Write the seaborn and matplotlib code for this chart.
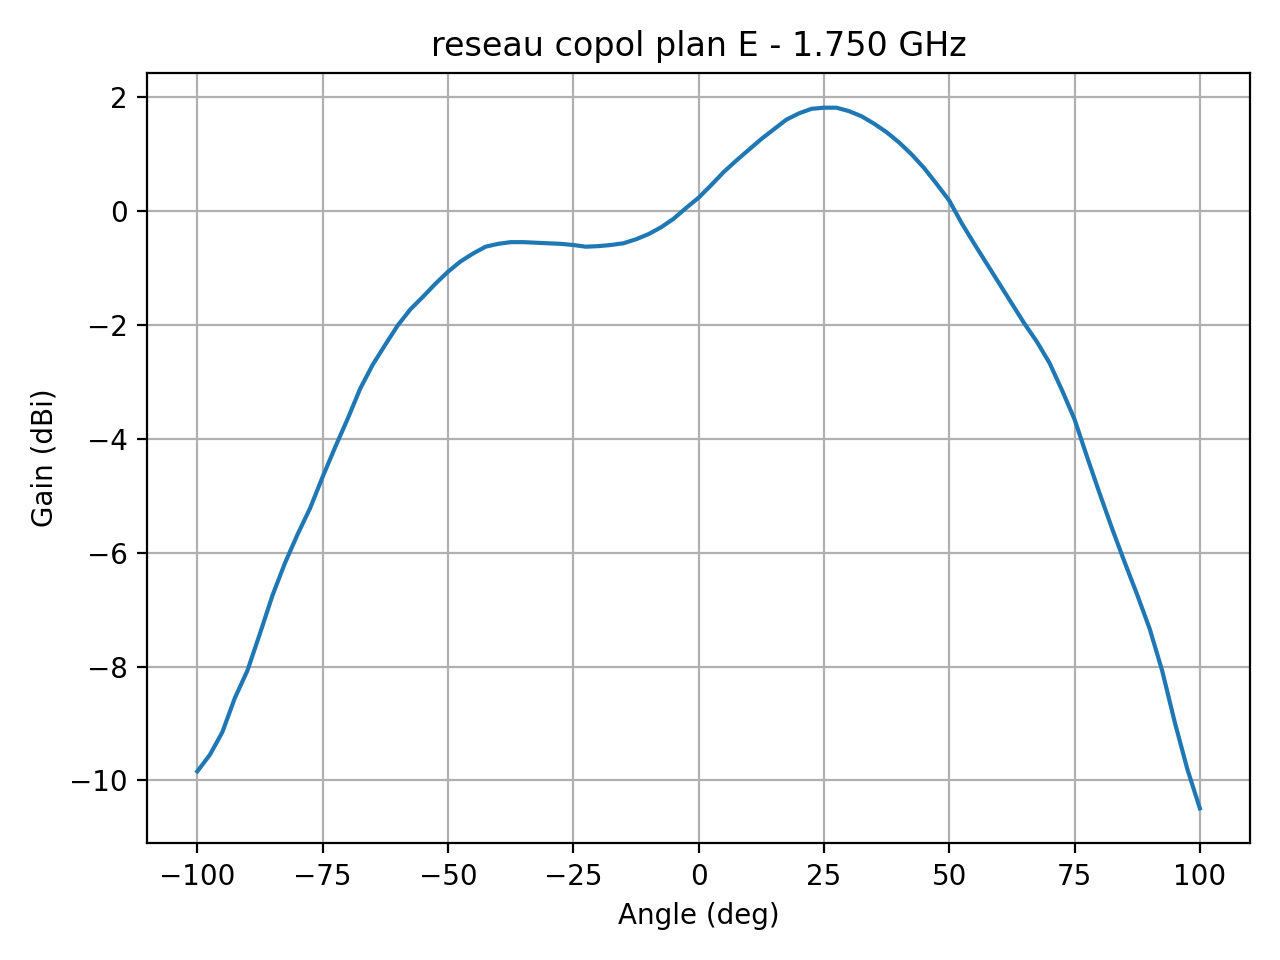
import matplotlib
matplotlib.use("Agg")
import matplotlib.pyplot as plt
import pandas as pd
import seaborn as sns

angle_deg = [
    -100, -97.5, -95, -92.5, -90, -87.5, -85, -82.5, -80, -77.5,
    -75, -72.5, -70, -67.5, -65, -62.5, -60, -57.5, -55, -52.5,
    -50, -47.5, -45, -42.5, -40, -37.5, -35, -32.5, -30, -27.5,
    -25, -22.5, -20, -17.5, -15, -12.5, -10, -7.5, -5, -2.5,
    0, 2.5, 5, 7.5, 10, 12.5, 15, 17.5, 20, 22.5,
    25, 27.5, 30, 32.5, 35, 37.5, 40, 42.5, 45, 47.5,
    50, 52.5, 55, 57.5, 60, 62.5, 65, 67.5, 70, 72.5,
    75, 77.5, 80, 82.5, 85, 87.5, 90, 92.5, 95, 97.5, 100,
]
gain_dbi = [
    -9.84, -9.55, -9.15, -8.55, -8.07, -7.42, -6.75, -6.18, -5.68, -5.22,
    -4.67, -4.15, -3.65, -3.12, -2.70, -2.35, -2.01, -1.73, -1.51, -1.28,
    -1.07, -0.89, -0.75, -0.63, -0.58, -0.55, -0.55, -0.56, -0.57, -0.58,
    -0.60, -0.63, -0.62, -0.60, -0.57, -0.50, -0.41, -0.29, -0.14, 0.05,
    0.23, 0.45, 0.68, 0.88, 1.07, 1.26, 1.43, 1.60, 1.71, 1.79,
    1.81, 1.81, 1.75, 1.66, 1.53, 1.38, 1.20, 0.99, 0.75, 0.47,
    0.18, -0.22, -0.58, -0.93, -1.28, -1.63, -1.98, -2.30, -2.67, -3.15,
    -3.66, -4.32, -4.96, -5.58, -6.17, -6.74, -7.34, -8.08, -8.98, -9.80, -10.49,
]

TITLE = "reseau copol plan E - 1.750 GHz"

df = pd.DataFrame({"angle": angle_deg, "gain": gain_dbi})

fig, ax = plt.subplots(figsize=(6.4, 4.8), dpi=200)
sns.lineplot(data=df, x="angle", y="gain", ax=ax, color="#1f77b4")

ax.set_title(TITLE)
ax.set_xlabel("Angle (deg)")
ax.set_ylabel("Gain (dBi)")
ax.grid(True)

plt.tight_layout()
plt.savefig("out.png", dpi=200)
plt.close()
